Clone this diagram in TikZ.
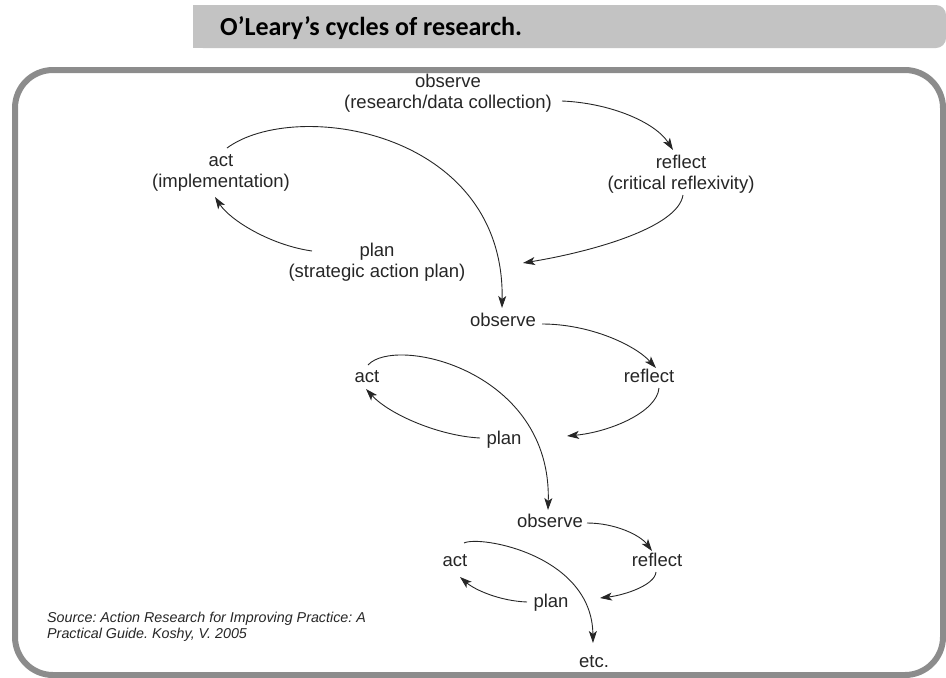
\documentclass[tikz,border=0pt]{standalone}
\usepackage{fontspec}
\setmainfont{Liberation Sans}
\newfontfamily\lblfont{Liberation Sans}
\newfontfamily\titlefont{Carlito}
\usetikzlibrary{arrows.meta}
\definecolor{framegray}{HTML}{8C8C8C}
\definecolor{bargray}{HTML}{C3C3C3}
\definecolor{ink}{HTML}{262626}
\frenchspacing
\begin{document}
\begin{tikzpicture}[x=1pt,y=-1pt,
  lbl/.style={font={\lblfont\fontsize{18.5}{20.5}\selectfont}, align=center, inner sep=0pt, text=ink},
  one/.style={font={\lblfont\fontsize{18.5}{20.5}\selectfont}, inner sep=0pt, text=ink, text height=13pt, text depth=4pt},
  arr/.style={draw=ink, line width=0.9pt, -{Stealth[length=12pt,width=8pt,inset=3pt]}}]
\useasboundingbox (0,0) rectangle (946,678);
% title bar
\fill[bargray, rounded corners=10pt] (193,5) rectangle (946,48);
\fill[bargray] (193,5) rectangle (230,48);
\node[font={\titlefont\bfseries\fontsize{26}{30}\selectfont}, anchor=west, inner sep=0pt, text=black] (title) at (220,28) {O’Leary’s cycles of research.};
% frame
\draw[framegray, line width=6pt, rounded corners=38pt] (15,70) rectangle (943,675);
% cycle 1
\node[lbl] (obs1) at (448,93) {observe\\(research/data collection)};
\node[lbl] (refl1) at (681,174) {reflect\\(critical reflexivity)};
\node[lbl] (plan1) at (377,262) {plan\\(strategic action plan)};
\node[lbl] (act1) at (221,173) {act\\(implementation)};
% cycle 2
\node[one] (obs2) at (503,322) {observe};
\node[one] (refl2) at (649,378) {reflect};
\node[one] (plan2) at (504,440) {plan};
\node[one] (act2) at (367,378) {act};
% cycle 3
\node[one] (obs3) at (550,523) {observe};
\node[one] (refl3) at (657,562) {reflect};
\node[one] (plan3) at (551,603) {plan};
\node[one] (act3) at (455,562) {act};
\node[one] (etc) at (594,663) {etc.};
% source
\node[font={\lblfont\itshape\fontsize{14.3}{16.5}\selectfont}, align=left, anchor=west, inner sep=0pt, text=ink] (src) at (47,627) {Source: Action Research for Improving Practice: A\\Practical Guide. Koshy, V. 2005};
% arrows cycle 1
\draw[arr] ([shift={(114,8)}]obs1.center) .. controls (610,103) and (655,122) .. ([shift={(-8,-24)}]refl1.center);
\draw[arr] ([shift={(2,21)}]refl1.center) .. controls (678,228) and (590,252) .. ([shift={(146,1)}]plan1.center);
\draw[arr] ([shift={(-65,-11)}]plan1.center) .. controls (270,245) and (230,220) .. ([shift={(-6,24)}]act1.center);
\draw[arr] ([shift={(6,-25)}]act1.center) .. controls (295,98) and (505,130) .. ([shift={(-1,-14)}]obs2.center);
% arrows cycle 2
\draw[arr] ([shift={(39,2)}]obs2.center) .. controls (590,324) and (635,345) .. ([shift={(7,-10)}]refl2.center);
\draw[arr] ([shift={(10,10)}]refl2.center) .. controls (657,412) and (610,432) .. ([shift={(63,-4)}]plan2.center);
\draw[arr] ([shift={(-24,-2)}]plan2.center) .. controls (440,436) and (390,415) .. ([shift={(-1,11)}]act2.center);
\draw[arr] ([shift={(1,-13)}]act2.center) .. controls (395,335) and (552,370) .. ([shift={(-2,-13)}]obs3.center);
% arrows cycle 3
\draw[arr] ([shift={(37,0)}]obs3.center) .. controls (615,523) and (640,535) .. ([shift={(-5,-11)}]refl3.center);
\draw[arr] ([shift={(-1,10)}]refl3.center) .. controls (655,585) and (625,595) .. ([shift={(49,-5)}]plan3.center);
\draw[arr] ([shift={(-24,-1)}]plan3.center) .. controls (500,601) and (475,590) .. ([shift={(5,15)}]act3.center);
\draw[arr] ([shift={(9,-19)}]act3.center) .. controls (480,535) and (592,555) .. ([shift={(-1,-20)}]etc.center);
\end{tikzpicture}
\end{document}
